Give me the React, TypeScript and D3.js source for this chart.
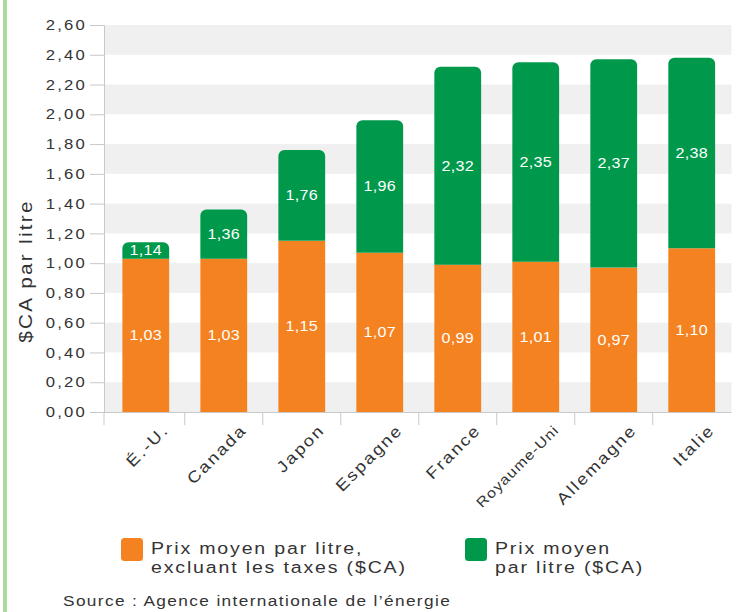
import React, { useEffect, useRef } from "react";
import * as d3 from "d3";

// chart data
const countries = ["É.-U.", "Canada", "Japon", "Espagne", "France", "Royaume-Uni", "Allemagne", "Italie"];
const priceNoTax = [1.03, 1.03, 1.15, 1.07, 0.99, 1.01, 0.97, 1.1];
const priceTotal = [1.14, 1.36, 1.76, 1.96, 2.32, 2.35, 2.37, 2.38];
const yTickValues = [0, 0.2, 0.4, 0.6, 0.8, 1.0, 1.2, 1.4, 1.6, 1.8, 2.0, 2.2, 2.4, 2.6];
const yAxisTitle = "$CA par litre";
const legendNoTax = ["Prix moyen par litre,", "excluant les taxes ($CA)"];
const legendTotal = ["Prix moyen", "par litre ($CA)"];
const sourceText = "Source : Agence internationale de l’énergie";

const ORANGE = "#f58220";
const GREEN = "#00994c";
const FONT = "'Liberation Sans', Arial, Helvetica, sans-serif";
const SX = 1.15; // the original font is wider than Arial, stretch it a bit

export default function App() {
  const ref = useRef<SVGSVGElement>(null);

  useEffect(() => {
    const svg = d3.select(ref.current);
    svg.selectAll("*").remove();

    const left = 104, right = 731.5, top = 25, bottom = 412;

    const x = d3.scaleBand<string>().domain(countries).range([106, right]).paddingInner(0.4).paddingOuter(0.21);
    const y = d3.scaleLinear().domain([0, 2.6]).range([bottom, top]);
    const fr = d3.formatLocale({ decimal: ",", thousands: " ", grouping: [3], currency: ["", " $"] });
    const fmt = fr.format(".2f");

    // light green border on the left
    svg.append("rect").attr("x", 3).attr("y", 0).attr("width", 4).attr("height", 612).attr("fill", "#a8da9e");

    // alternating grey bands
    svg.append("g").selectAll("rect")
      .data(yTickValues.filter((d, i) => i % 2 === 0 && i < yTickValues.length - 1))
      .join("rect")
      .attr("x", left)
      .attr("width", right - left)
      .attr("y", d => y(d + 0.2))
      .attr("height", d => y(d) - y(d + 0.2))
      .attr("fill", "#f0f0f0");

    // y axis
    const yAxis = svg.append("g").attr("transform", `translate(${left},0)`)
      .call(d3.axisLeft(y).tickValues(yTickValues).tickSize(14).tickSizeOuter(14).tickFormat(d => fmt(d as number)));
    yAxis.selectAll("path, line").attr("stroke", "#c8c8c8");
    yAxis.selectAll("text")
      .attr("x", 0)
      .attr("transform", `translate(-17,0) scale(${SX},1)`)
      .attr("fill", "#333")
      .attr("font-family", FONT)
      .attr("font-size", 14.5)
      .attr("letter-spacing", 1.9);

    // x axis line and separator ticks
    svg.append("line").attr("x1", 90).attr("x2", right).attr("y1", bottom + 0.5).attr("y2", bottom + 0.5).attr("stroke", "#c8c8c8");
    svg.append("g").selectAll("line")
      .data(countries)
      .join("line")
      .attr("x1", (d, i) => (i === 0 ? left : x(d)! - x.step() * 0.2))
      .attr("x2", (d, i) => (i === 0 ? left : x(d)! - x.step() * 0.2))
      .attr("y1", bottom)
      .attr("y2", bottom + 13)
      .attr("stroke", "#c8c8c8");

    const bw = x.bandwidth();

    // orange part (without taxes)
    svg.append("g").selectAll("rect")
      .data(countries)
      .join("rect")
      .attr("x", d => x(d)!)
      .attr("width", bw)
      .attr("y", (d, i) => y(priceNoTax[i]))
      .attr("height", (d, i) => bottom - y(priceNoTax[i]))
      .attr("fill", ORANGE);

    // green part up to the total, top corners rounded
    svg.append("g").selectAll("path")
      .data(countries)
      .join("path")
      .attr("d", (d, i) => {
        const x0 = x(d)!, x1 = x0 + bw, yt = y(priceTotal[i]), yb = y(priceNoTax[i]);
        const p = d3.path();
        p.moveTo(x0, yb);
        p.arcTo(x0, yt, x1, yt, 6);
        p.arcTo(x1, yt, x1, yb, 6);
        p.lineTo(x1, yb);
        p.closePath();
        return p.toString();
      })
      .attr("fill", GREEN);

    // value labels
    const labels = svg.append("g")
      .attr("fill", "#fff")
      .attr("font-family", FONT)
      .attr("font-size", 14)
      .attr("letter-spacing", 0.3)
      .attr("text-anchor", "middle");
    labels.selectAll(".lab_notax")
      .data(countries)
      .join("text")
      .attr("class", "lab_notax")
      .attr("transform", (d, i) => `translate(${x(d)! + bw / 2},${(bottom + y(priceNoTax[i])) / 2}) scale(${SX},1)`)
      .attr("dy", "0.35em")
      .text((d, i) => fmt(priceNoTax[i]));
    labels.selectAll(".lab_total")
      .data(countries)
      .join("text")
      .attr("class", "lab_total")
      .attr("transform", (d, i) => `translate(${x(d)! + bw / 2},${(y(priceNoTax[i]) + y(priceTotal[i])) / 2}) scale(${SX},1)`)
      .attr("dy", "0.35em")
      .text((d, i) => fmt(priceTotal[i]));

    // category labels, rotated
    svg.append("g").selectAll("text")
      .data(countries)
      .join("text")
      .attr("transform", d => `translate(${x(d)! + bw / 2 + 24},${bottom + 19}) rotate(-45) scale(${SX},1)`)
      .attr("text-anchor", "end")
      .attr("fill", "#333")
      .attr("font-family", FONT)
      .attr("font-size", d => (d.length > 10 ? 14 : 16))
      .attr("letter-spacing", d => (d.length > 10 ? 0.9 : 1.8))
      .text(d => d);

    // y axis title
    svg.append("text")
      .attr("transform", `translate(32,271) rotate(-90) scale(${SX},1)`)
      .attr("text-anchor", "middle")
      .attr("fill", "#333")
      .attr("font-family", FONT)
      .attr("font-size", 18)
      .attr("letter-spacing", 2)
      .text(yAxisTitle);

    // legend
    const legend = [
      { color: ORANGE, lines: legendNoTax, x: 121 },
      { color: GREEN, lines: legendTotal, x: 465 },
    ];
    const lg = svg.append("g").selectAll("g").data(legend).join("g").attr("transform", d => `translate(${d.x},538)`);
    lg.append("rect").attr("width", 22).attr("height", 23).attr("rx", 3.5).attr("fill", d => d.color);
    lg.append("text")
      .attr("transform", `translate(30,0) scale(${SX},1)`)
      .attr("fill", "#333")
      .attr("font-family", FONT)
      .attr("font-size", 17)
      .attr("letter-spacing", 1.6)
      .selectAll("tspan")
      .data(d => d.lines)
      .join("tspan")
      .attr("x", 0)
      .attr("y", (d, i) => 16.5 + i * 18.5)
      .text(d => d);

    // source
    svg.append("text")
      .attr("transform", `translate(63,605.5) scale(${SX},1)`)
      .attr("fill", "#333")
      .attr("font-family", FONT)
      .attr("font-size", 15)
      .attr("letter-spacing", 1.2)
      .text(sourceText);
  }, []);

  return (
    <svg ref={ref} width={737} height={612} style={{ position: "absolute", left: 0, top: 0, background: "#fff" }} />
  );
}
